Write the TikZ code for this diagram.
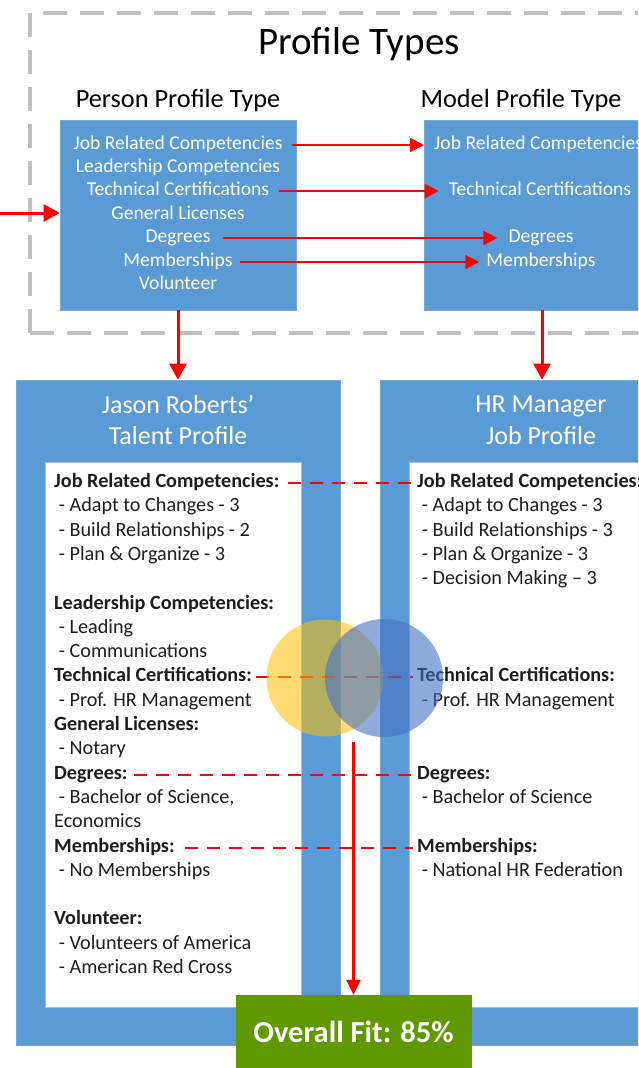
\documentclass[tikz,border=0pt]{standalone}
\usepackage{fontspec}
\setmainfont{Carlito}
\usetikzlibrary{arrows.meta}
\definecolor{boxblue}{HTML}{5B9BD5}
\definecolor{arrred}{HTML}{FF0000}
\definecolor{fitgreen}{HTML}{619800}
\definecolor{venny}{HTML}{FFC000}
\definecolor{vennb}{HTML}{4472C4}
\definecolor{framegray}{HTML}{BFBFBF}
\definecolor{bodytext}{HTML}{1E1E1E}
\newcommand\myind{\hspace*{0.23em}}
\begin{document}
\begin{tikzpicture}[x=1pt,y=-1pt,
  bluebox/.style={fill=boxblue, draw=boxblue!85!white, line width=0.8pt, inner sep=0pt},
  whitebox/.style={fill=white, draw=boxblue!60!white, line width=0.6pt, inner sep=0pt},
  toptxt/.style={text=white, font=\fontsize{19.6}{23.5}\selectfont, inner sep=0pt, text height=13pt, text depth=4pt},
  grptitle/.style={text=black, font=\fontsize{26.3}{31}\selectfont, inner sep=0pt},
  ttl/.style={text=white, font=\fontsize{26}{31.5}\selectfont, align=center, inner sep=0pt},
  body/.style={text=bodytext, font=\fontsize{20.2}{24}\selectfont, anchor=west, inner sep=0pt, text height=13pt, text depth=4pt},
  rarr/.style={draw=arrred, line width=2pt, -{Triangle[length=14pt,width=14pt]}},
  bigarr/.style={draw=arrred, line width=3pt, -{Triangle[length=16pt,width=17pt]}},
  rdash/.style={draw=arrred, line width=2pt, dash pattern=on 13pt off 9pt, shorten <=6pt, shorten >=4pt},
]
\useasboundingbox (0,0) rectangle (638,1068);
\clip (0,0) rectangle (638,1068);

% dashed frame of profile types
\draw[framegray, line width=3.5pt, dash pattern=on 24pt off 13pt] (30,333) -- (30,13) -- (690,13);
\draw[framegray, line width=3.5pt, dash pattern=on 24pt off 13pt] (30,333) -- (690,333);
\node[font=\fontsize{39}{45}\selectfont, inner sep=0pt] (ptitle) at (359,44) {Profile Types};

% top group titles
\node[grptitle] (pt) at (178,100) {Person Profile Type};
\node[grptitle] (mt) at (521,100) {Model Profile Type};

% top boxes
\node[bluebox, minimum width=236pt, minimum height=190pt] (person) at (178,215) {};
\node[bluebox, minimum width=236pt, minimum height=190pt] (model) at (542,215) {};

\node[toptxt] (p1) at (178,145) {Job Related Competencies};
\node[toptxt] (p2) at (178,168) {Leadership Competencies};
\node[toptxt] (p3) at (178,191) {Technical Certifications};
\node[toptxt] (p4) at (178,215) {General Licenses};
\node[toptxt] (p5) at (178,238) {Degrees};
\node[toptxt] (p6) at (178,262) {Memberships};
\node[toptxt] (p7) at (178,285) {Volunteer};

\node[toptxt, anchor=west] (m1) at (434,145) {Job Related Competencies};
\node[toptxt] (m3) at (540,191) {Technical Certifications};
\node[toptxt] (m5) at (541,238) {Degrees};
\node[toptxt] (m6) at (541,262) {Memberships};

\draw[rarr, shorten <=9pt, shorten >=10pt] (p1.east) -- (m1.west);
\draw[rarr, shorten <=10pt, shorten >=10pt] (p3.east) -- (m3.west);
\draw[rarr, shorten <=12pt, shorten >=11pt] (p5.east) -- (m5.west);
\draw[rarr, shorten <=7pt, shorten >=7pt] (p6.east) -- (m6.west);

\coordinate (incoming) at (0,213);
\draw[bigarr] (incoming) -- (incoming -| person.west);

% profile boxes
\node[bluebox, minimum width=324pt, minimum height=665pt] (talent) at (178,712.5) {};
\node[bluebox, minimum width=324pt, minimum height=665pt] (job) at (542,712.5) {};
\node[whitebox, minimum width=256pt, minimum height=545pt] (tw) at (173,734.5) {};
\node[whitebox, minimum width=256pt, minimum height=545pt] (jw) at (537,734.5) {};

\draw[bigarr] (person.south) -- (talent.north);
\draw[bigarr] (model.south) -- (job.north);

\node[ttl] (ttitle) at (178,420) {Jason Roberts’\\Talent Profile};
\node[ttl] (jtitle) at (541,420) {HR Manager\\Job Profile};

% left texts
\foreach \i/\t in {
  1/{\textbf{Job Related Competencies:}},
  2/{\myind- Adapt to Changes - 3},
  3/{\myind- Build Relationships - 2},
  4/{\myind- Plan \& Organize - 3},
  6/{\textbf{Leadership Competencies:}},
  7/{\myind- Leading},
  8/{\myind- Communications},
  9/{\textbf{Technical Certifications:}},
  10/{\myind- Prof. HR Management},
  11/{\textbf{General Licenses:}},
  12/{\myind- Notary},
  13/{\textbf{Degrees:}},
  14/{\myind- Bachelor of Science,},
  15/{Economics},
  16/{\textbf{Memberships:}},
  17/{\myind- No Memberships},
  19/{\textbf{Volunteer:}},
  20/{\myind- Volunteers of America},
  21/{\myind- American Red Cross}}
  \node[body] (L\i) at (54,{483+24.3*(\i-1)}) {\t};

% right texts
\foreach \i/\t in {
  1/{\textbf{Job Related Competencies:}},
  2/{\myind- Adapt to Changes - 3},
  3/{\myind- Build Relationships - 3},
  4/{\myind- Plan \& Organize - 3},
  5/{\myind- Decision Making – 3},
  9/{\textbf{Technical Certifications:}},
  10/{\myind- Prof. HR Management},
  13/{\textbf{Degrees:}},
  14/{\myind- Bachelor of Science},
  16/{\textbf{Memberships:}},
  17/{\myind- National HR Federation}}
  \node[body] (R\i) at (417,{483+24.3*(\i-1)}) {\t};

% dashed matching lines
\draw[rdash, shorten <=8pt] (L1.east) -- (R1.west);
\draw[rdash, shorten <=4pt] (L9.east) -- (R9.west);
\draw[rdash] (L13.east) -- (R13.west);
\draw[rdash, shorten <=10pt] (L16.east) -- (R16.west);

% venn circles
\node[circle, fill=venny, fill opacity=0.55, minimum size=117pt, inner sep=0pt] (cy) at (325,678) {};
\node[circle, fill=vennb, fill opacity=0.6, minimum size=118pt, inner sep=0pt] (cb) at (384,678) {};

% overall fit
\node[fill=fitgreen, minimum width=236pt, minimum height=74pt, inner sep=0pt, text=white, font=\bfseries\fontsize{30.5}{36}\selectfont] (fit) at (353.5,1032) {Overall Fit: 85\%};
\coordinate (fitstart) at (353.5,742);
\draw[draw=arrred, line width=3pt, -{Triangle[length=15pt,width=14pt]}] (fitstart) -- (fit.north);
\end{tikzpicture}
\end{document}
